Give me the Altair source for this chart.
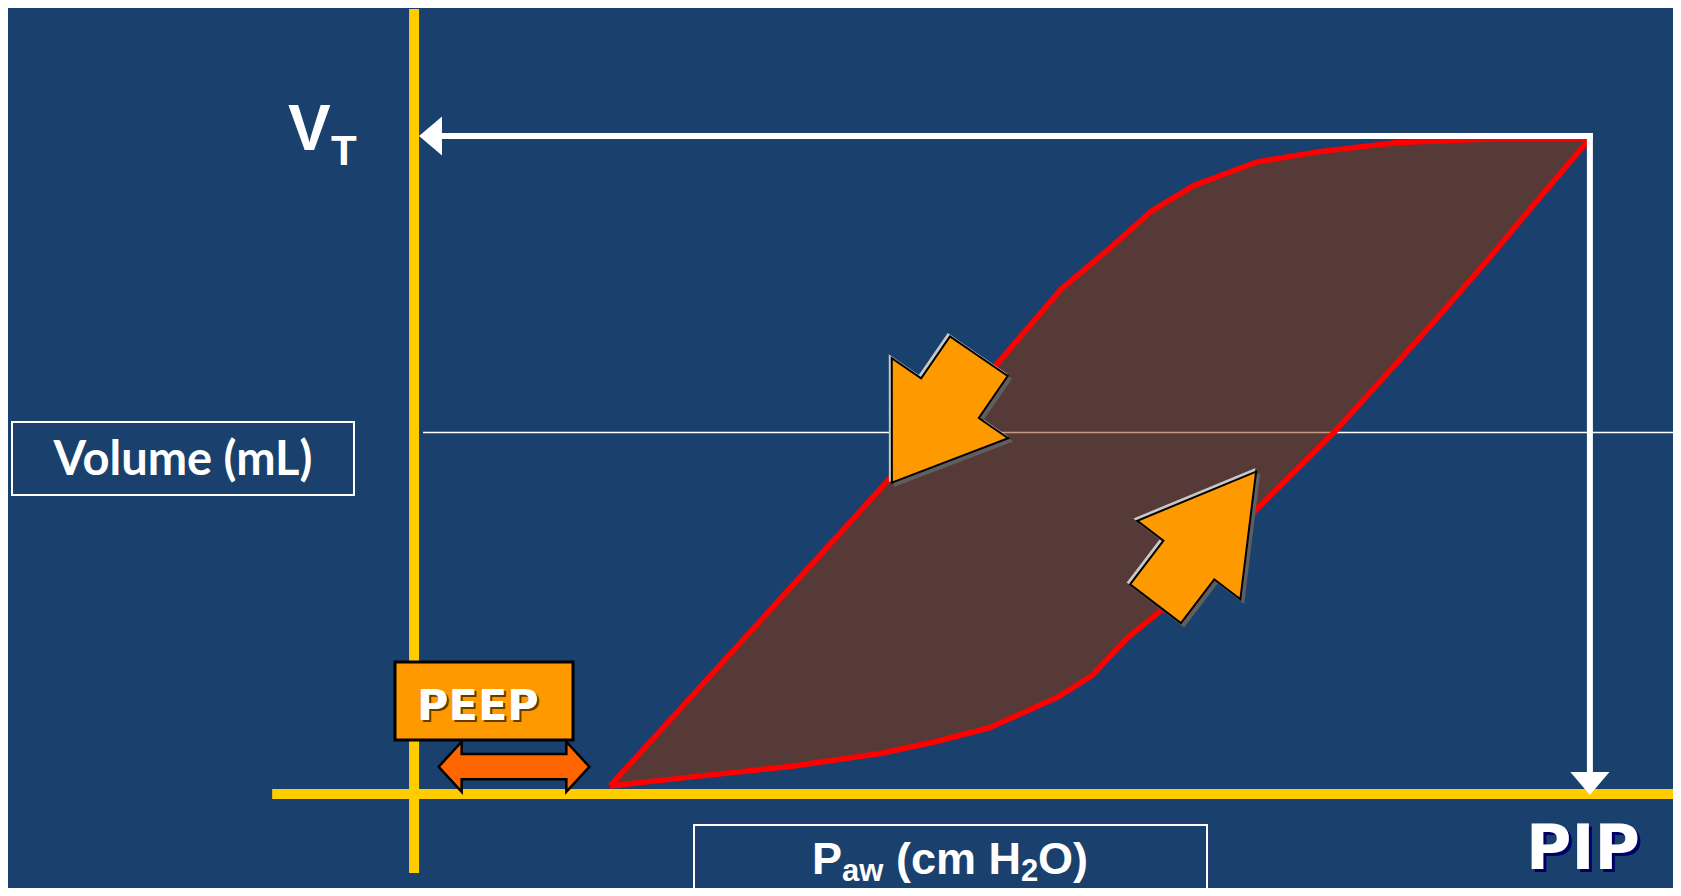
import altair as alt
import pandas as pd

# ---- values (pressure in cm H2O, volume in mL) ----
# inspiratory limb (lower curve), from PEEP up to PIP / VT
INSP_P = [5.0, 7.1, 9.6, 11.9, 13.3, 14.7, 16.4, 17.3, 18.2, 19.1, 21.5, 23.5, 25.9, 27.4, 28.7, 30.0]
INSP_V = [0, 7, 15, 25, 34, 45, 68, 85, 114, 136, 213, 273, 353, 405, 452, 498]
# expiratory limb (upper curve), from PIP back down to PEEP
EXP_P = [30.0, 27.6, 25.1, 23.1, 21.5, 19.9, 18.8, 17.8, 16.5, 14.8, 12.0, 5.0]
EXP_V = [498, 498, 495, 488, 480, 462, 442, 415, 382, 322, 232, 0]

PEEP = 5
PIP = 30
VT = 500
MID_V = 272

# flow-direction arrows (expiration, inspiration): centre in data units
FLOW_P = [13.3, 20.2]
FLOW_V = [282, 191]

# ---- styling ----
BG = "#1a406d"
YELLOW = "#ffcc00"
XS = alt.Scale(domain=[-10.36, 32.12], nice=False, zero=False)
YS = alt.Scale(domain=[-78.5, 598.5], nice=False, zero=False)

ARROW_EXP = "M 1 0 L -0.336 -0.92 L -0.336 -0.456 L -1 -0.456 L -1 0.456 L -0.336 0.456 L -0.336 0.92 Z"
ARROW_INSP = "M 1 0 L -0.337 -0.78 L -0.337 -0.385 L -1 -0.385 L -1 0.385 L -0.337 0.385 L -0.337 0.78 Z"
DOUBLE = ("M -1 0 L -0.695 -0.332 L -0.695 -0.168 L 0.695 -0.168 L 0.695 -0.332 L 1 0 "
          "L 0.695 0.332 L 0.695 0.168 L -0.695 0.168 L -0.695 0.332 Z")
HEAD_LEFT = "M -1 0 L 1 -1.7 L 1 1.7 Z"
HEAD_DOWN = "M 0 1 L -1.7 -1 L 1.7 -1 Z"


def X(field="p"):
    return alt.X(f"{field}:Q", scale=XS, axis=None)


def Y(field="v"):
    return alt.Y(f"{field}:Q", scale=YS, axis=None)


# ---- loop ----
loop_df = pd.DataFrame({
    "p": INSP_P + EXP_P[1:],
    "v": INSP_V + EXP_V[1:],
})
loop_df["i"] = range(len(loop_df))

loop = alt.Chart(loop_df).mark_line(
    fill="#923404", fillOpacity=0.5, stroke="#ff0000", strokeWidth=5.5,
    strokeJoin="round", interpolate="linear"
).encode(x=X(), y=Y(), order=alt.Order("i:Q"))

# thin mid-volume line
mid_df = pd.DataFrame({"p0": [0.23], "p1": [32.2], "v": [MID_V]})
mid = alt.Chart(mid_df).mark_rule(color="white", strokeWidth=1.5).encode(
    x=X("p0"), x2="p1:Q", y=Y())

# yellow axes
vax_df = pd.DataFrame({"p": [0], "v0": [597.7], "v1": [-67]})
vaxis = alt.Chart(vax_df).mark_rule(color=YELLOW, strokeWidth=10).encode(
    x=X(), y=Y("v0"), y2="v1:Q")
hax_df = pd.DataFrame({"p0": [-3.62], "p1": [32.2], "v": [0]})
haxis = alt.Chart(hax_df).mark_rule(color=YELLOW, strokeWidth=10, yOffset=8).encode(
    x=X("p0"), x2="p1:Q", y=Y())

# white arrows from the loop peak to the axes
wh_df = pd.DataFrame({"p0": [0.71], "p1": [PIP], "v": [VT]})
white_h = alt.Chart(wh_df).mark_rule(color="white", strokeWidth=6, strokeCap="square").encode(
    x=X("p0"), x2="p1:Q", y=Y())
wv_df = pd.DataFrame({"p": [PIP], "v0": [VT], "v1": [10.8]})
white_v = alt.Chart(wv_df).mark_rule(color="white", strokeWidth=6, strokeCap="square").encode(
    x=X(), y=Y("v0"), y2="v1:Q")
hl_df = pd.DataFrame({"p": [0.42], "v": [VT]})
head_l = alt.Chart(hl_df).mark_point(shape=HEAD_LEFT, size=529, filled=True, fill="white",
                                     strokeWidth=0, opacity=1).encode(x=X(), y=Y())
hd_df = pd.DataFrame({"p": [PIP], "v": [1.9]})
head_d = alt.Chart(hd_df).mark_point(shape=HEAD_DOWN, size=529, filled=True, fill="white",
                                     strokeWidth=0, opacity=1).encode(x=X(), y=Y())


def block_arrow(p, v, shape, size, angle, fill, stroke="black", sw=2.0, shadows=True):
    df = pd.DataFrame({"p": [p], "v": [v]})
    layers = []
    if shadows:
        for dx, col in [(-2, "#c8c8c8"), (3, "#5f5f5f")]:
            layers.append(alt.Chart(df).mark_point(
                shape=shape, size=size, angle=angle, filled=True, fill=col, stroke=col,
                strokeWidth=sw, opacity=1, xOffset=dx, yOffset=dx).encode(x=X(), y=Y()))
    layers.append(alt.Chart(df).mark_point(
        shape=shape, size=size, angle=angle, filled=True, fill=fill, stroke=stroke,
        strokeWidth=sw, opacity=1).encode(x=X(), y=Y()))
    return layers


flow_exp = block_arrow(FLOW_P[0], FLOW_V[0], ARROW_EXP, 23562, 124.5, "#ff9900")
flow_insp = block_arrow(FLOW_P[1], FLOW_V[1], ARROW_INSP, 27556, 307.3, "#ff9900")
peep_arrow = block_arrow(PEEP / 2 + 0.05, 14.8, DOUBLE, 22680, 0, "#ff6600", sw=2.5, shadows=False)


# ---- boxes and labels (pixel placement) ----
def box(x0, x1, y0, y1, stroke, sw, fill=None):
    df = pd.DataFrame({"k": [0]})
    kw = dict(stroke=stroke, strokeWidth=sw)
    if fill is None:
        kw["fillOpacity"] = 0
    else:
        kw["fill"] = fill
        kw["fillOpacity"] = 1
    return alt.Chart(df).mark_rect(**kw).encode(
        x=alt.value(x0), x2=alt.value(x1), y=alt.value(y0), y2=alt.value(y1))


def label(text, x, y, size, font, color="white", align="center", weight="bold", opacity=1):
    df = pd.DataFrame({"t": [text]})
    return alt.Chart(df).mark_text(
        font=font, fontSize=size, fontWeight=weight, color=color, align=align,
        baseline="alphabetic", opacity=opacity
    ).encode(x=alt.value(x), y=alt.value(y), text="t:N")


ARIAL = "Liberation Sans"
labels = [
    label("V", 280, 142, 64, ARIAL, align="left"),
    label("T", 323, 157, 42, ARIAL, align="left"),
    box(4, 346, 414, 487, "white", 2),
    label("Volume (mL)", 175, 467, 47, "Lato"),
    box(686, 1199, 817, 895, "white", 2),
    label("P", 804, 866, 45, ARIAL, align="left"),
    label("aw", 834, 873, 31, ARIAL, align="left"),
    label("(cm H", 888, 866, 45, ARIAL, align="left"),
    label("2", 1013, 873, 31, ARIAL, align="left"),
    label("O)", 1030, 866, 45, ARIAL, align="left"),
    label("PIP", 1578, 864, 62, "DejaVu Sans", color="#000066"),
    label("PIP", 1575, 861, 62, "DejaVu Sans"),
]
peep = [
    box(387, 565, 654, 732, "black", 3, fill="#ff9900"),
    label("PEEP", 472, 714, 43, "DejaVu Sans", color="black", opacity=0.6),
    label("PEEP", 470, 712, 43, "DejaVu Sans"),
]

chart = alt.layer(
    mid, loop, vaxis, haxis, white_h, white_v, head_l, head_d,
    *flow_exp, *flow_insp, *labels, *peep, *peep_arrow
).properties(
    width=1665, height=880, padding=0, autosize="none"
).configure(background=BG).configure_view(strokeWidth=0)

chart.save("out.html", embed_options={"renderer": "svg", "actions": False})
